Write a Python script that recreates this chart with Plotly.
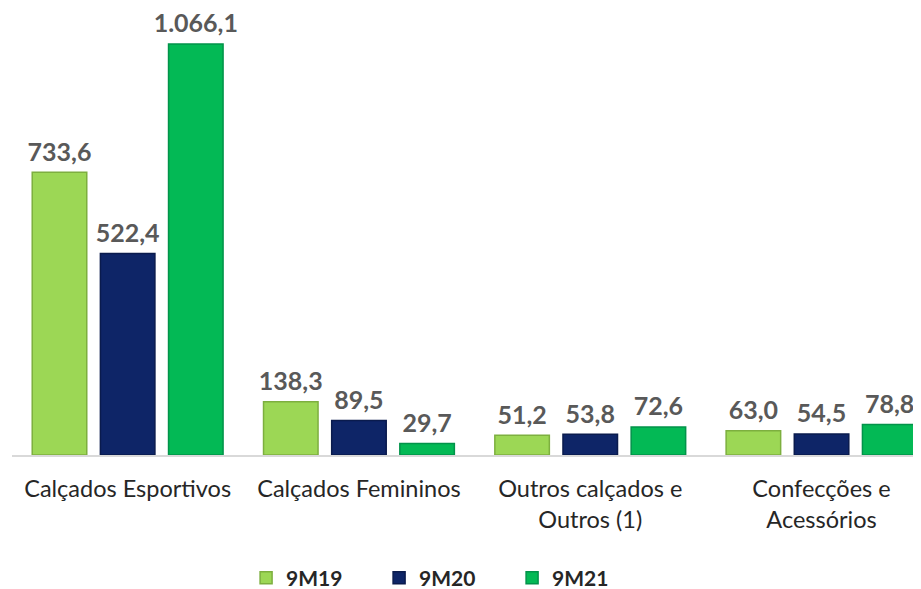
import plotly.graph_objects as go

categories = ["Calçados Esportivos", "Calçados Femininos", "Outros calçados e<br>Outros (1)", "Confecções e<br>Acessórios"]
series_names = ["9M19", "9M20", "9M21"]
v_9m19 = [733.6, 138.3, 51.2, 63.0]
v_9m20 = [522.4, 89.5, 53.8, 54.5]
v_9m21 = [1066.1, 29.7, 72.6, 78.8]

colors = ["#9CD755", "#0E2567", "#03B955"]
edges = ["#7DAF3F", "#0A1B4D", "#02934A"]

fig = go.Figure()
for name, vals, c, e in zip(series_names, [v_9m19, v_9m20, v_9m21], colors, edges):
    fig.add_trace(go.Bar(
        x=categories, y=vals, name=name, offsetgroup=name,
        marker=dict(color=c, line=dict(color=e, width=1.5)),
    ))
for name, vals in zip(series_names, [v_9m19, v_9m20, v_9m21]):
    fig.add_trace(go.Scatter(
        x=categories, y=vals, name=name, offsetgroup=name, showlegend=False,
        mode="markers+text", marker=dict(size=7, opacity=0),
        texttemplate="%{y:,.1f}", textposition="top center",
        textfont=dict(family="Lato", size=25, color="#595959", weight="bold"),
        cliponaxis=False, hoverinfo="skip",
    ))

# page body has an 8px margin: figure is offset so the window matches
fig.update_layout(
    width=913, height=600,
    separators=",.",
    paper_bgcolor="white", plot_bgcolor="white",
    margin=dict(l=4, r=0, t=12, b=153),
    barmode="group", bargap=0.116, bargroupgap=0.2,
    scattermode="group", scattergap=0.116,
    showlegend=True,
    legend=dict(orientation="h", x=0.477, xanchor="center", y=-0.283, yanchor="middle",
                font=dict(family="Lato", size=21, color="#262626", weight="bold"),
                itemwidth=30, entrywidth=88, traceorder="normal"),
)
fig.update_xaxes(range=[-0.5, 3.43], showline=True, linecolor="#D9D9D9", linewidth=1.5,
                 ticks="", ticklabelstandoff=12,
                 tickfont=dict(family="Lato", size=23.5, color="#262626"))
fig.update_yaxes(range=[0, 1128.4], visible=False, showgrid=False, zeroline=False)

fig.write_html("out.html")
